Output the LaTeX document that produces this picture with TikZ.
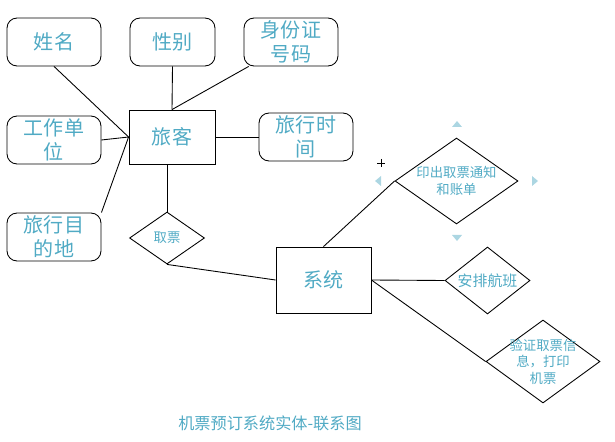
\documentclass[tikz,border=0pt]{standalone}
\usepackage{fontspec}
\setmainfont{Noto Sans CJK SC}
\usetikzlibrary{shapes.geometric}
\definecolor{texte}{RGB}{80,170,196}
\definecolor{poignee}{RGB}{172,214,226}

\tikzset{attribut/.style = {draw, rounded corners=0.2cm, minimum width=#1, minimum height=0.96cm,
                            align=center, font=\fontsize{11.4}{13.7}\selectfont},
         attribut/.default=1.88cm,
         entite/.style = {draw, rectangle, font=\fontsize{11.4}{13.7}\selectfont},
         lien/.style = {draw, diamond},
         lientexte/.style = {align=center, font=\fontsize{7.6}{9.4}\selectfont}
        }

\begin{document}
\begin{tikzpicture}[x=0.02cm,y=-0.02cm,line width=0.5pt]
\useasboundingbox (0,0) rectangle (615,442);
\tikzstyle{every node}=[text=texte, inner sep=0pt]
\node[attribut] at (54,42) (xm) {姓名};
\node[attribut=1.7cm] at (172.5,42) (xb) {性别};
\node[attribut] at (291,42) (sfz) {身份证\\号码};
\node[attribut] at (54,140) (gzdw) {工作单\\位};
\node[attribut] at (54,237) (mdd) {旅行目\\的地};
\node[entite, minimum width=1.72cm, minimum height=1.08cm] at (172,137) (lk) {旅客};
\node[attribut] at (306,137) (sj) {旅行时\\间};
\node[lien, minimum width=1.5cm, minimum height=1.04cm,
      label={[lientexte]center:取票}] at (167,238) (qp) {};
\node[entite, minimum width=1.9cm, minimum height=1.32cm] at (323.5,280) (xt) {系统};
\node[lien, minimum width=2.46cm, minimum height=1.72cm,
      label={[lientexte]center:印出取票通知\\和账单}] at (456.5,181) (yc) {};
\node[lien, minimum width=1.7cm, minimum height=1.34cm,
      label={[lientexte, font=\fontsize{8.5}{10}\selectfont]center:安排航班}] at (487.5,280.5) (ap) {};
\node[lien, minimum width=2.28cm, minimum height=1.66cm,
      label={[lientexte]center:验证取票信\\息，打印\\机票}] at (543,361.5) (yz) {};
\node[font=\fontsize{9.2}{11}\selectfont] at (270,423) (titre) {机票预订系统实体-联系图};
\draw (xm.south) -- (lk.west);
\draw (xb.south) -- (lk.north);
\draw (sfz.210) -- (lk.north);
\draw (gzdw.east) -- (lk.west);
\draw (mdd.north east) -- (lk.west);
\draw (lk.east) -- (sj.west);
\draw (lk.south -| qp.north) -- (qp.north);
\draw (qp.south) -- (xt.west);
\draw (xt.north) -- (yc.west);
\draw (xt.east) -- (ap.west);
\draw (xt.east) -- (yz.west);
\fill[poignee] (452,127) -- (457,121) -- (462,127) -- cycle;
\fill[poignee] (452,235) -- (457,241) -- (462,235) -- cycle;
\fill[poignee] (381,176) -- (375,181) -- (381,186) -- cycle;
\fill[poignee] (532,176) -- (538,181) -- (532,186) -- cycle;
\draw[line width=0.4pt] (377,163) -- (385,163) (381,159) -- (381,167);
\end{tikzpicture}
\end{document}
